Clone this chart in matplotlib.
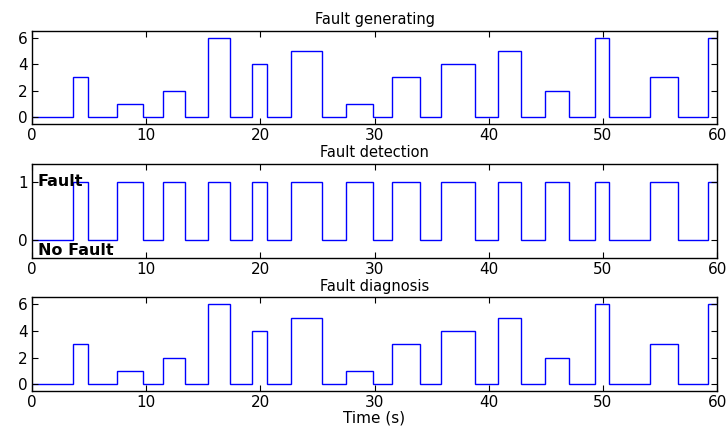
import matplotlib
matplotlib.use("Agg")
import matplotlib.pyplot as plt

# switching instants (s) and fault class held between them
edges = [0, 3.6, 4.9, 7.4, 9.7, 11.5, 13.4, 15.4, 17.3, 19.3, 20.6, 22.7,
         25.4, 27.5, 29.85, 31.5, 34.0, 35.8, 38.8, 40.8, 42.8, 44.9, 47.0,
         49.3, 50.55, 54.1, 56.6, 59.2, 60]
fault_class = [0, 3, 0, 1, 0, 2, 0, 6, 0, 4, 0, 5, 0, 1, 0, 3, 0, 4, 0, 5,
               0, 2, 0, 6, 0, 3, 0, 6]
detected = [0, 1, 0, 1, 0, 1, 0, 1, 0, 1, 0, 1, 0, 1, 0, 1, 0, 1, 0, 1,
            0, 1, 0, 1, 0, 1, 0, 1]
diagnosed = [0, 3, 0, 1, 0, 2, 0, 6, 0, 4, 0, 5, 0, 1, 0, 3, 0, 4, 0, 5,
             0, 2, 0, 6, 0, 3, 0, 6]

plt.rcParams["font.family"] = ["DejaVu Sans"]
plt.rcParams["font.size"] = 11

fig = plt.figure(figsize=(7.28, 4.29), dpi=100)
pos = [(0.044, 0.711, 0.941, 0.217),
       (0.044, 0.399, 0.941, 0.218),
       (0.044, 0.0886, 0.941, 0.218)]
axes = [fig.add_axes(p) for p in pos]

panels = [(fault_class, "Fault generating", (-0.5, 6.5), [0, 2, 4, 6]),
          (detected, "Fault detection", (-0.3, 1.3), [0, 1]),
          (diagnosed, "Fault diagnosis", (-0.5, 6.5), [0, 2, 4, 6])]

for ax, (vals, title, ylim, yt) in zip(axes, panels):
    ax.stairs(vals, edges, baseline=None, color="blue", lw=1.0)
    ax.set_xlim(0, 60)
    ax.set_ylim(*ylim)
    ax.set_xticks(range(0, 61, 10))
    ax.set_yticks(yt)
    ax.tick_params(direction="in", top=True, right=True, length=4,
                   width=0.8, labelsize=11, pad=3)
    for sp in ax.spines.values():
        sp.set_linewidth(1.0)
    ax.set_title(title, fontsize=10.5, pad=5)

axes[1].text(0.5, 1.0, "Fault", fontweight="bold", fontsize=11.5,
             ha="left", va="center")
axes[1].text(0.5, -0.17, "No Fault", fontweight="bold", fontsize=11.5,
             ha="left", va="center")
axes[2].set_xlabel("Time (s)", fontsize=11, labelpad=0)

fig.savefig("out.png", dpi=100)
